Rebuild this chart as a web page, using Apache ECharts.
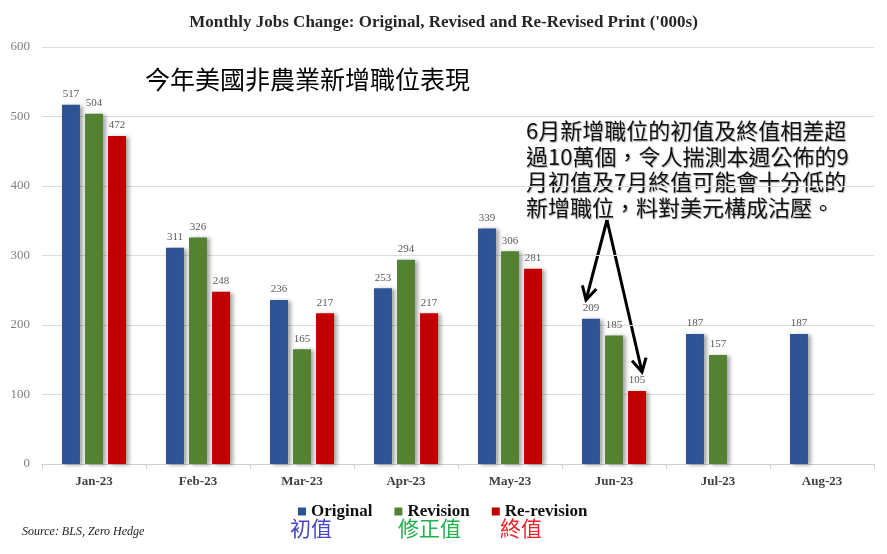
<!DOCTYPE html>
<html>
<head>
<meta charset="utf-8">
<script src="https://cdn.jsdelivr.net/npm/echarts@6/dist/echarts.min.js"></script>
<style>
  html, body { margin: 0; padding: 0; background: #ffffff; }
  #chart { width: 887px; height: 554px; }
</style>
</head>
<body>
<div id="chart"></div>
<script>
// months and the three prints (thousands of jobs)
var months = ['Jan-23', 'Feb-23', 'Mar-23', 'Apr-23', 'May-23', 'Jun-23', 'Jul-23', 'Aug-23'];
var original = [517, 311, 236, 253, 339, 209, 187, 187];
var revision = [504, 326, 165, 294, 306, 185, 157, null];
var reRevision = [472, 248, 217, 217, 281, 105, null, null];
var yTicks = [0, 100, 200, 300, 400, 500, 600];

var noteLines = [
  '6月新增職位的初值及終值相差超',
  '過10萬個，令人揣測本週公佈的9',
  '月初值及7月終值可能會十分低的',
  '新增職位，料對美元構成沽壓。'
];

var serif = '"Liberation Serif", "DejaVu Serif", serif';
var cjk = '"Noto Sans CJK TC", "Noto Sans CJK SC", sans-serif';

var chart = echarts.init(document.getElementById('chart'));

function barSeries(name, color, data) {
  return {
    name: name,
    type: 'bar',
    data: data,
    barWidth: 18,
    barGap: '28%',
    itemStyle: {
      color: color,
      shadowColor: 'rgba(0, 0, 0, 0.35)',
      shadowBlur: 4,
      shadowOffsetX: 3,
      shadowOffsetY: 1
    },
    label: {
      show: true,
      position: 'top',
      distance: 5,
      color: '#595959',
      fontFamily: serif,
      fontSize: 11
    }
  };
}

// arrow shaft plus open head
function arrow(x1, y1, x2, y2) {
  var a = Math.atan2(y2 - y1, x2 - x1);
  var len = 15, spread = 0.5;
  var p1 = [x2 - len * Math.cos(a - spread), y2 - len * Math.sin(a - spread)];
  var p2 = [x2 - len * Math.cos(a + spread), y2 - len * Math.sin(a + spread)];
  return [{
    type: 'line',
    shape: { x1: x1, y1: y1, x2: x2, y2: y2 },
    style: { stroke: '#000', lineWidth: 3 }
  }, {
    type: 'polyline',
    shape: { points: [p1, [x2, y2], p2] },
    style: { stroke: '#000', lineWidth: 3, fill: null }
  }];
}

var graphics = [{
  type: 'text',
  left: 145,
  top: 67,
  style: { text: '今年美國非農業新增職位表現', font: '25px ' + cjk, fill: '#000' }
}, {
  type: 'text',
  left: 22,
  top: 526,
  style: { text: 'Source: BLS, Zero Hedge', font: 'italic 12px ' + serif, fill: '#222' }
}, {
  type: 'text',
  left: 290,
  top: 518,
  style: { text: '初值', font: '21px ' + cjk, fill: '#4646c8' }
}, {
  type: 'text',
  left: 398,
  top: 518,
  style: { text: '修正值', font: '21px ' + cjk, fill: '#22b14c' }
}, {
  type: 'text',
  left: 500,
  top: 518,
  style: { text: '終值', font: '21px ' + cjk, fill: '#e8262e' }
}];

noteLines.forEach(function (t, i) {
  graphics.push({
    type: 'text',
    left: 526,
    top: 120 + i * 25.5,
    style: {
      text: t,
      font: '22px ' + cjk,
      fill: '#111',
      textShadowColor: 'rgba(0,0,0,0.3)',
      textShadowBlur: 1,
      textShadowOffsetX: 1,
      textShadowOffsetY: 1
    }
  });
});

graphics = graphics.concat(arrow(607, 220, 586, 300), arrow(607, 220, 642, 372));

var option = {
  backgroundColor: '#ffffff',
  animation: false,
  title: {
    text: "Monthly Jobs Change: Original, Revised and Re-Revised Print ('000s)",
    left: 'center',
    top: 9,
    textStyle: { fontFamily: serif, fontSize: 17, fontWeight: 'bold', color: '#262626' }
  },
  grid: { left: 42, right: 13, top: 47, bottom: 90 },
  legend: {
    left: 293,
    top: 498,
    icon: 'rect',
    itemWidth: 8,
    itemHeight: 8,
    itemGap: 22,
    textStyle: { fontFamily: serif, fontSize: 17, fontWeight: 'bold', color: '#111' },
    data: ['Original', 'Revision', 'Re-revision']
  },
  xAxis: {
    type: 'category',
    data: months,
    axisLine: { lineStyle: { color: '#d0d0d0' } },
    axisTick: { show: true, length: 5, lineStyle: { color: '#d0d0d0' } },
    axisLabel: { margin: 11, fontFamily: serif, fontSize: 13, fontWeight: 'bold', color: '#404040' }
  },
  yAxis: {
    type: 'value',
    min: yTicks[0],
    max: yTicks[yTicks.length - 1],
    interval: 100,
    axisLine: { show: false },
    axisTick: { show: false },
    splitLine: { lineStyle: { color: '#dcdcdc' } },
    axisLabel: { margin: 12, fontFamily: serif, fontSize: 13, color: '#7f7f7f' }
  },
  series: [
    barSeries('Original', '#2f5496', original),
    barSeries('Revision', '#548235', revision),
    barSeries('Re-revision', '#c00000', reRevision)
  ],
  graphic: graphics
};

chart.setOption(option);
</script>
</body>
</html>
